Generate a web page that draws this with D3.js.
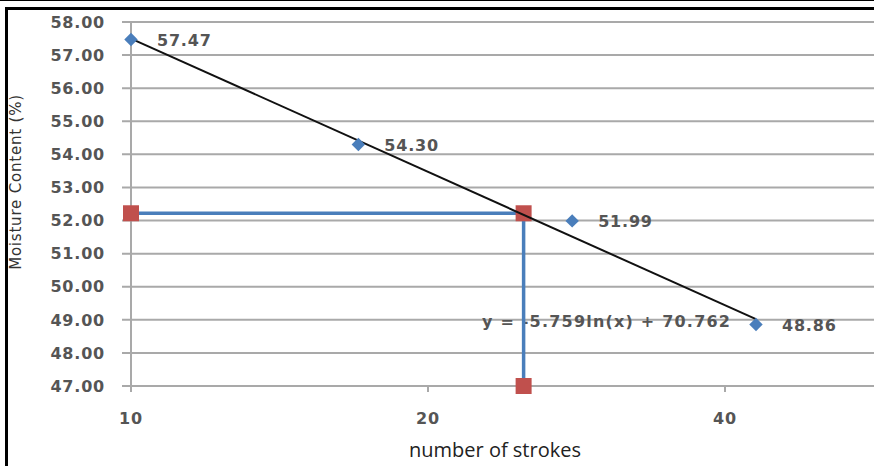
<!DOCTYPE html>
<html>
<head>
<meta charset="utf-8">
<script src="https://cdn.jsdelivr.net/npm/d3@7"></script>
<style>
  body { margin: 0; background: #fff; }
  svg { display: block; }
</style>
</head>
<body>
<div id="chart"></div>
<script>
// data
var strokes = [10, 17, 28, 43];
var moisture = [57.47, 54.30, 51.99, 48.86];
// reading of the 25-blow moisture content (red squares + blue guide lines)
var readX = [10, 25, 25];
var readY = [52.22, 52.22, 47];
// log trendline end points (straight on a log x axis)
var trendX = [10, 43];
var trendY = [57.50, 49.02];
var trendLabel = "y = -5.759ln(x) + 70.762";
var yTicks = [47, 48, 49, 50, 51, 52, 53, 54, 55, 56, 57, 58];
var xTicks = [10, 20, 40];

var W = 874, H = 466;
var svg = d3.select("#chart").append("svg")
    .attr("width", W)
    .attr("height", H);

var x = d3.scaleLog().domain([10, 40]).range([131, 725]);
var y = d3.scaleLinear().domain([47, 58]).range([386, 22]);

// frame lines
svg.append("line").attr("x1", 0).attr("x2", W).attr("y1", 0.5).attr("y2", 0.5)
    .attr("stroke", "#000").attr("stroke-width", 1);
svg.append("line").attr("x1", 5).attr("x2", W).attr("y1", 8.5).attr("y2", 8.5)
    .attr("stroke", "#000").attr("stroke-width", 3);
svg.append("line").attr("x1", 6.5).attr("x2", 6.5).attr("y1", 7).attr("y2", H)
    .attr("stroke", "#000").attr("stroke-width", 3);

// horizontal gridlines
svg.append("g").selectAll("line")
    .data(yTicks)
    .enter().append("line")
    .attr("x1", x(10) - 9).attr("x2", W)
    .attr("y1", function (d) { return y(d); })
    .attr("y2", function (d) { return y(d); })
    .attr("stroke", "#a9a9a9")
    .attr("stroke-width", 2);

// y axis line
svg.append("line")
    .attr("x1", x(10)).attr("x2", x(10))
    .attr("y1", y(58)).attr("y2", y(47) + 6)
    .attr("stroke", "#a9a9a9").attr("stroke-width", 2);

// x ticks
svg.append("g").selectAll("line")
    .data(xTicks.slice(1))
    .enter().append("line")
    .attr("x1", function (d) { return x(d); })
    .attr("x2", function (d) { return x(d); })
    .attr("y1", y(47)).attr("y2", y(47) + 6)
    .attr("stroke", "#a9a9a9").attr("stroke-width", 2);

var numFont = "DejaVu Sans, Verdana, sans-serif";
var numColor = "#555";

// y tick labels
svg.append("g").selectAll("text")
    .data(yTicks)
    .enter().append("text")
    .attr("x", 105)
    .attr("y", function (d) { return y(d); })
    .attr("dy", "0.36em")
    .attr("text-anchor", "end")
    .attr("font-family", numFont)
    .attr("font-size", 16)
    .attr("font-weight", "bold")
    .attr("letter-spacing", 0.8)
    .attr("fill", numColor)
    .text(d3.format(".2f"));

// x tick labels
svg.append("g").selectAll("text")
    .data(xTicks)
    .enter().append("text")
    .attr("x", function (d) { return x(d); })
    .attr("y", 418)
    .attr("dy", "0.36em")
    .attr("text-anchor", "middle")
    .attr("font-family", numFont)
    .attr("font-size", 16)
    .attr("font-weight", "bold")
    .attr("letter-spacing", 0.8)
    .attr("fill", numColor)
    .text(function (d) { return d; });

// axis titles
svg.append("text")
    .attr("transform", "translate(21,182) rotate(-90)")
    .attr("text-anchor", "middle")
    .attr("font-family", numFont)
    .attr("font-size", 15)
    .attr("letter-spacing", 0.8)
    .attr("fill", "#333")
    .text("Moisture Content (%)");

svg.append("text")
    .attr("x", 495)
    .attr("y", 450)
    .attr("dy", "0.36em")
    .attr("text-anchor", "middle")
    .attr("font-family", "Open Sans, Liberation Sans, sans-serif")
    .attr("font-size", 20)
    .attr("fill", "#222")
    .text("number of strokes");

// trend equation (under the blue guide line)
svg.append("text")
    .attr("x", 482)
    .attr("y", 321)
    .attr("dy", "0.36em")
    .attr("font-family", numFont)
    .attr("font-size", 16)
    .attr("font-weight", "bold")
    .attr("letter-spacing", 1.2)
    .attr("fill", numColor)
    .text(trendLabel);

// blue guide lines through the red points
var guide = d3.line()
    .x(function (d) { return x(d[0]); })
    .y(function (d) { return y(d[1]); });
svg.append("path")
    .datum(d3.zip(readX, readY))
    .attr("d", guide)
    .attr("fill", "none")
    .attr("stroke", "#4a7ebb")
    .attr("stroke-width", 3.5);

// red squares
svg.append("g").selectAll("path")
    .data(d3.zip(readX, readY))
    .enter().append("path")
    .attr("d", d3.symbol(d3.symbolSquare, 256))
    .attr("transform", function (d) { return "translate(" + x(d[0]) + "," + y(d[1]) + ")"; })
    .attr("fill", "#c0504d");

// trendline
svg.append("path")
    .datum(d3.zip(trendX, trendY))
    .attr("d", guide)
    .attr("fill", "none")
    .attr("stroke", "#111")
    .attr("stroke-width", 2);

// data points
var pts = d3.zip(strokes, moisture);
svg.append("g").selectAll("path")
    .data(pts)
    .enter().append("path")
    .attr("d", d3.symbol(d3.symbolSquare, 90))
    .attr("transform", function (d) { return "translate(" + x(d[0]) + "," + y(d[1]) + ") rotate(45)"; })
    .attr("fill", "#4a7ebb");

// data labels
svg.append("g").selectAll("text")
    .data(pts)
    .enter().append("text")
    .attr("x", function (d) { return x(d[0]) + 26; })
    .attr("y", function (d) { return y(d[1]); })
    .attr("dy", "0.4em")
    .attr("font-family", numFont)
    .attr("font-size", 16)
    .attr("font-weight", "bold")
    .attr("letter-spacing", 0.8)
    .attr("fill", numColor)
    .text(function (d) { return d3.format(".2f")(d[1]); });
</script>
</body>
</html>
